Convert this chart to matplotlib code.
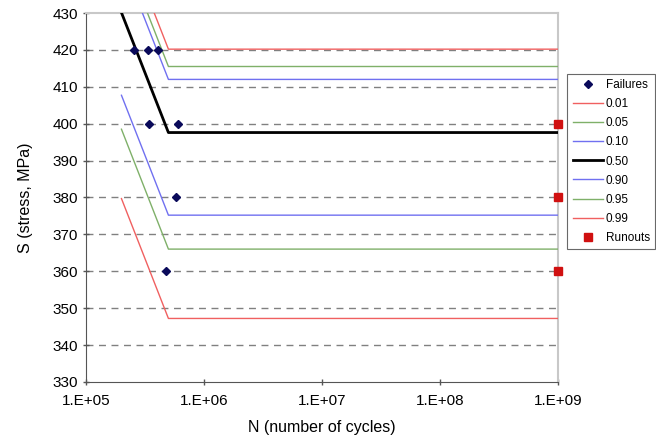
import matplotlib.pyplot as plt
import numpy as np

plt.rcParams['font.family'] = ['Liberation Sans', 'DejaVu Sans']

# P-S-N curves: each quantile line is a sloped segment down to the knee,
# then flat out to 1e9 cycles
curve_n = [2.0e5, 5.0e5, 1.0e9]
curve_drop = 32.5
quantiles = ["0.01", "0.05", "0.10", "0.50", "0.90", "0.95", "0.99"]
knee_stress = [347.2, 366.0, 375.2, 397.6, 412.0, 415.5, 420.2]
curve_colors = ["#f06060", "#7fb069", "#7070f0", "black", "#7070f0", "#7fb069", "#f06060"]
curve_widths = [1, 1, 1, 2, 1, 1, 1]

# failed specimens
fail_n = [2.54e5, 3.34e5, 4.07e5, 3.43e5, 6.0e5, 5.85e5, 4.78e5]
fail_s = [420, 420, 420, 400, 400, 380, 360]

# runouts (tests stopped at 1e9 cycles)
runout_n = [1.0e9, 1.0e9, 1.0e9]
runout_s = [400, 380, 360]

fig = plt.figure(figsize=(6.56, 4.41), dpi=100)
ax = fig.add_axes([0.131, 0.134, 0.7195, 0.8365])

for y in range(340, 430, 10):
    ax.axhline(y, color="#808080", linestyle=(0, (5, 4)), linewidth=1, zorder=0)

ax.plot(fail_n, fail_s, linestyle="none", marker="D", markersize=4.2,
        color="#0a0a5a", label="Failures", zorder=4)
for q, k, c, w in zip(quantiles, knee_stress, curve_colors, curve_widths):
    s = [k + curve_drop, k, k]
    ax.plot(curve_n, s, color=c, linewidth=w, label=q, zorder=3)
ax.plot(runout_n, runout_s, linestyle="none", marker="s", markersize=5.5,
        color="#d01010", label="Runouts", zorder=5, clip_on=False)

ax.set_xscale("log")
ax.set_xlim(1e5, 1e9)
ax.set_ylim(330, 430)
ax.set_yticks(np.arange(330, 431, 10))
ax.set_xticks([1e5, 1e6, 1e7, 1e8, 1e9])
ax.set_xticklabels(["1.E+05", "1.E+06", "1.E+07", "1.E+08", "1.E+09"])
ax.minorticks_off()
ax.tick_params(axis="both", labelsize=11, length=4, width=1, color="#555555", direction="inout")
ax.tick_params(axis="x", pad=7)

for side in ["left", "bottom"]:
    ax.spines[side].set_color("#555555")
for side in ["top", "right"]:
    ax.spines[side].set_color("#c8c8c8")
    ax.spines[side].set_linewidth(1.5)

ax.set_xlabel("N (number of cycles)", fontsize=11.5, labelpad=8)
ax.set_ylabel("S (stress, MPa)", fontsize=11.5, labelpad=14)

leg = ax.legend(loc="upper left", bbox_to_anchor=(1.02, 0.835), fontsize=8.5,
                frameon=True, fancybox=False, edgecolor="#444444",
                handlelength=2.6, handletextpad=0.2, labelspacing=0.6,
                borderpad=0.45, borderaxespad=0)
leg.get_frame().set_linewidth(0.8)

fig.savefig("out.png", dpi=100)
